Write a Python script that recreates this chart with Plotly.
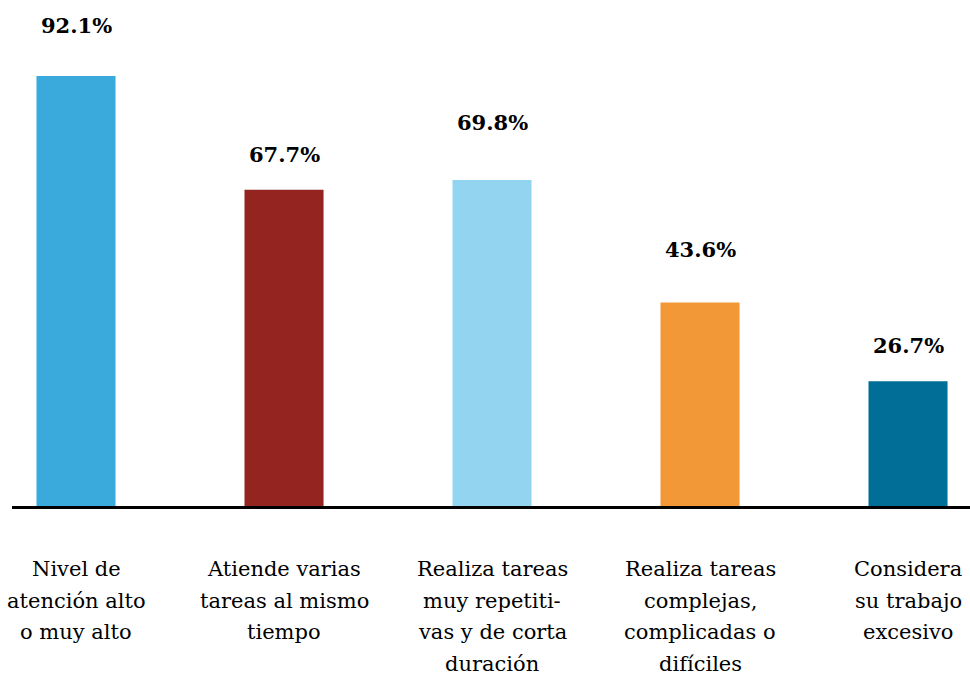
import plotly.graph_objects as go

categories = [
    "Nivel de<br>atención alto<br>o muy alto",
    "Atiende varias<br>tareas al mismo<br>tiempo",
    "Realiza tareas<br>muy repetiti-<br>vas y de corta<br>duración",
    "Realiza tareas<br>complejas,<br>complicadas o<br>difíciles",
    "Considera<br>su trabajo<br>excesivo",
]
values = [92.1, 67.7, 69.8, 43.6, 26.7]
value_labels = ["92.1%", "67.7%", "69.8%", "43.6%", "26.7%"]
colors = ["#3AA9DB", "#93241F", "#93D4F0", "#F29837", "#006E96"]
label_gaps = [50, 35, 58, 53, 36]

FONT = "DejaVu Serif"
LINE_STEP = 31.5

x = list(range(len(categories)))

fig = go.Figure()
fig.add_trace(go.Bar(
    x=x, y=values, marker=dict(color=colors, line=dict(width=0)),
    width=0.38, hoverinfo="skip",
))

annotations = []
for xi, v, lab, gap in zip(x, values, value_labels, label_gaps):
    annotations.append(dict(
        x=xi, y=v, xref="x", yref="y", text="<b>" + lab + "</b>",
        showarrow=False, yanchor="middle", yshift=gap,
        font=dict(family=FONT, size=21, color="#000000"),
    ))
for xi, cat in zip(x, categories):
    for li, line in enumerate(cat.split("<br>")):
        annotations.append(dict(
            x=xi, y=0, xref="x", yref="y", text=line,
            showarrow=False, yanchor="top", yshift=-49 - LINE_STEP * li,
            align="center",
            font=dict(family=FONT, size=21, color="#000000"),
        ))

fig.update_layout(
    width=970, height=676,
    margin=dict(l=12, r=0, t=0, b=170),
    paper_bgcolor="white", plot_bgcolor="white",
    showlegend=False,
    font=dict(family=FONT),
    annotations=annotations,
    xaxis=dict(range=[-0.3077, 4.298], showticklabels=False, showgrid=False,
               zeroline=False, showline=True, linecolor="black", linewidth=3,
               ticks=""),
    yaxis=dict(range=[0, 108.35], visible=False, showgrid=False, zeroline=False),
)

fig.write_html("out.html", config={"displayModeBar": False},
               post_script="document.body.style.margin='0';document.body.style.overflow='hidden';")
